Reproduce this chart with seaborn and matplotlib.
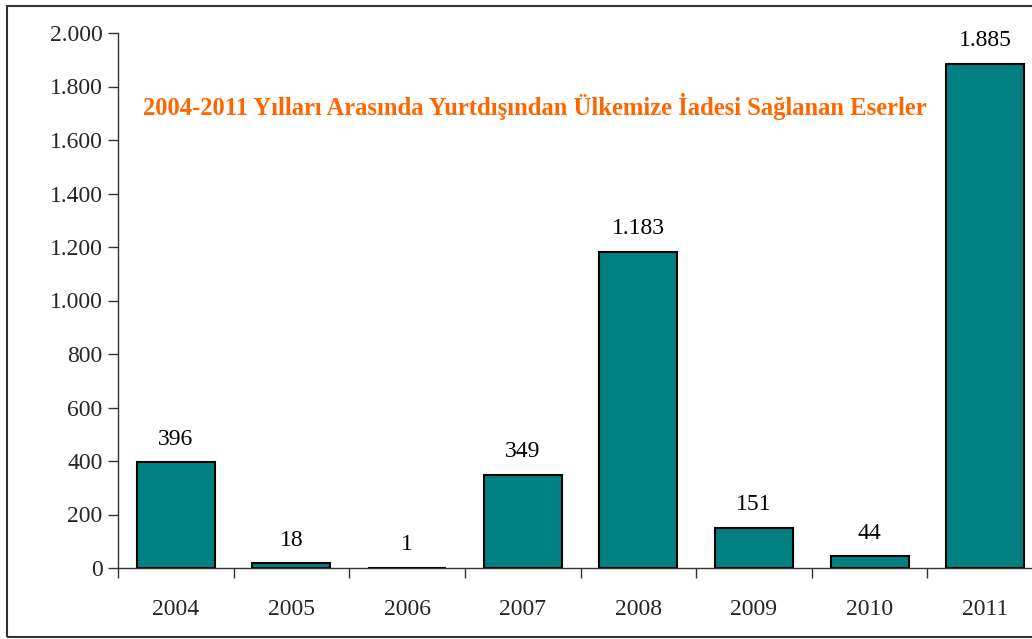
import matplotlib
matplotlib.use("Agg")
import matplotlib.pyplot as plt
import matplotlib.patches as mpatches
from matplotlib.ticker import FuncFormatter, FixedLocator
import seaborn as sns
import pandas as pd

years = ["2004", "2005", "2006", "2007", "2008", "2009", "2010", "2011"]
values = [396, 18, 1, 349, 1183, 151, 44, 1885]
title = "2004-2011 Yılları Arasında Yurtdışından Ülkemize İadesi Sağlanan Eserler"
yticks = [0, 200, 400, 600, 800, 1000, 1200, 1400, 1600, 1800, 2000]

sns.set_style("white")
plt.rcParams["font.family"] = ["Liberation Serif", "DejaVu Serif"]

def fmt(v):
    return f"{int(v):,}".replace(",", ".")

df = pd.DataFrame({"year": years, "value": values})

fig = plt.figure(figsize=(10.32, 6.39), dpi=100)
ax = fig.add_axes([118/1032, 1 - 568/639, (1043 - 118)/1032, (568 - 33)/639])

sns.barplot(data=df, x="year", y="value", color="#008080", saturation=1,
            edgecolor="black", linewidth=1.5, width=0.675, ax=ax)

ax.set_xlim(-0.5, len(years) - 0.5)
ax.set_ylim(0, 2000)
ax.set_yticks(yticks)
ax.yaxis.set_major_formatter(FuncFormatter(lambda v, p: fmt(v)))
ax.tick_params(axis="y", direction="out", length=7, width=1, color="#333333",
               labelsize=17, pad=4, left=True)
ax.tick_params(axis="x", which="major", length=0, labelsize=17, pad=22)
ax.xaxis.set_minor_locator(FixedLocator([i + 0.5 for i in range(-1, len(years) - 1)]))
ax.tick_params(axis="x", which="minor", direction="out", length=7, width=1,
               color="#333333", bottom=True)
ax.set_xlabel("")
ax.set_ylabel("")

for s in ["top", "right"]:
    ax.spines[s].set_visible(False)
for s in ["left", "bottom"]:
    ax.spines[s].set_color("#333333")
    ax.spines[s].set_linewidth(1)

for i, v in enumerate(values):
    ax.annotate(fmt(v), (i, v), xytext=(0, 9), textcoords="offset points",
                ha="center", va="bottom", fontsize=17, color="black")

fig.text(535/1032, 1 - 107/639, title, ha="center", va="center",
         fontsize=17.7, fontweight="bold", color="#FF6600")

frame = mpatches.Rectangle((7/1032, 2/639), 1.1, (635 - 4)/639,
                           transform=fig.transFigure, fill=False,
                           edgecolor="#333333", linewidth=1.5)
fig.patches.append(frame)

fig.savefig("out.png", dpi=100)
